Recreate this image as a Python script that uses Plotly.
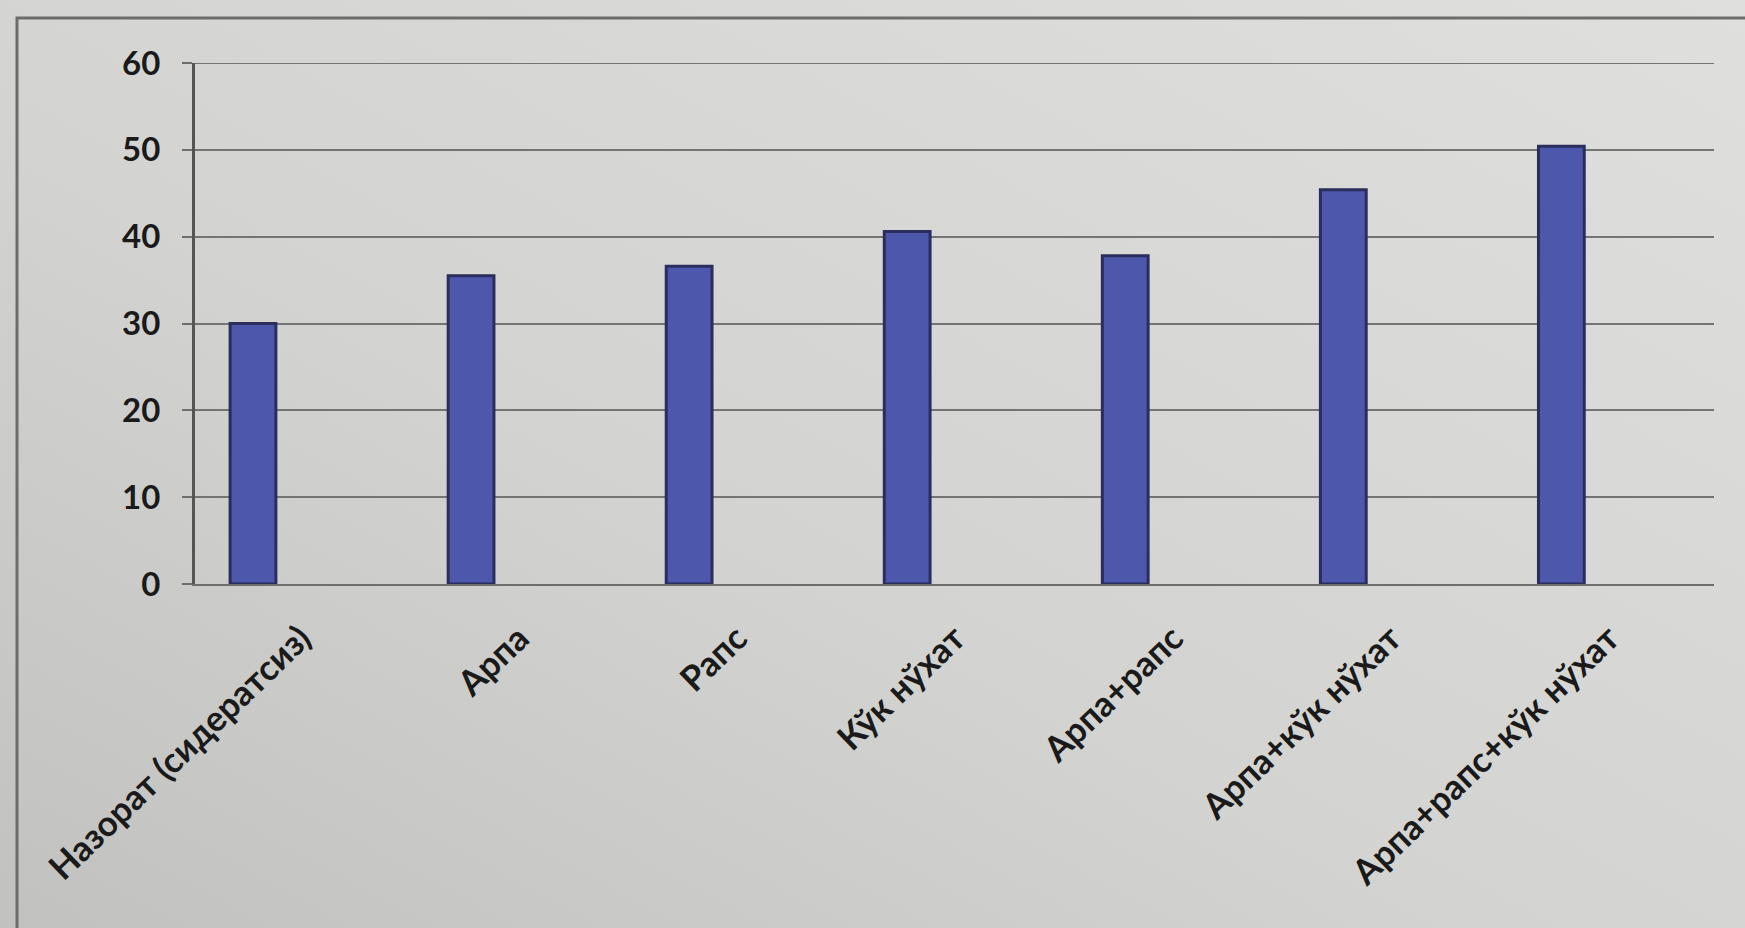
import base64
import plotly.graph_objects as go

# Green-manure variants and the measured values
categories = [
    "Назорат (сидератсиз)",
    "Арпа",
    "Рапс",
    "Кўк нўхат",
    "Арпа+рапс",
    "Арпа+кўк нўхат",
    "Арпа+рапс+кўк нўхат",
]
values = [30.0, 35.5, 36.6, 40.6, 37.8, 45.4, 50.4]
y_ticks = [0, 10, 20, 30, 40, 50, 60]

BAR_FILL = "#4d57ab"
BAR_EDGE = "#2a2e5c"
GRID = "#747472"
TEXT = "#1a1a1a"
FONT = "Lato"

# soft grey backdrop, darker on the left and lighter towards the right
svg = (
    '<svg xmlns="http://www.w3.org/2000/svg" width="1745" height="928" '
    'preserveAspectRatio="none">'
    '<defs><linearGradient id="g" x1="0" y1="1" x2="1" y2="0">'
    '<stop offset="0" stop-color="#bcbcba"/>'
    '<stop offset="0.45" stop-color="#d3d4d1"/>'
    '<stop offset="1" stop-color="#e1e2df"/>'
    '</linearGradient></defs>'
    '<rect width="1745" height="928" fill="url(#g)"/></svg>'
)
bg_uri = "data:image/svg+xml;base64," + base64.b64encode(svg.encode()).decode()

fig = go.Figure(
    go.Bar(
        x=categories,
        y=values,
        width=0.21,
        marker=dict(color=BAR_FILL, line=dict(color=BAR_EDGE, width=3)),
        hoverinfo="x+y",
    )
)

fig.update_layout(
    width=1745,
    height=928,
    margin=dict(l=195, r=31, t=63, b=344),
    paper_bgcolor="#d3d4d1",
    plot_bgcolor="rgba(0,0,0,0)",
    showlegend=False,
    font=dict(family=FONT, color=TEXT),
    images=[
        dict(
            source=bg_uri,
            xref="paper", yref="paper",
            x=-0.2, y=1.2, sizex=1.4, sizey=2.2,
            xanchor="left", yanchor="top",
            sizing="stretch", layer="below",
        )
    ],
    shapes=[
        # outer chart frame
        dict(
            type="rect", xref="paper", yref="paper",
            x0=(17 - 195) / (1745 - 226), x1=1.05,
            y0=-0.9, y1=1 + (63 - 18) / (928 - 407),
            line=dict(color="#6c6c6c", width=3),
            fillcolor="rgba(0,0,0,0)", layer="below",
        ),
        # gridline at the top of the value range
        dict(
            type="line", xref="x domain", yref="y",
            x0=0, x1=1, y0=y_ticks[-1], y1=y_ticks[-1],
            line=dict(color=GRID, width=2), layer="below",
        ),
    ],
)

fig.update_xaxes(
    type="category",
    range=[-0.266, 6.70],
    showgrid=False,
    showline=True,
    linecolor="#6e6e6e",
    linewidth=2,
    ticks="",
    tickangle=-44,
    ticklabelshift=48,
    ticklabelstandoff=18,
    tickfont=dict(family=FONT, size=35, color=TEXT, weight="bold"),
    automargin=False,
)

fig.update_yaxes(
    range=[0, 60],
    tickvals=y_ticks,
    showgrid=True,
    gridcolor=GRID,
    gridwidth=2,
    showline=True,
    linecolor="#555555",
    linewidth=3,
    ticks="outside",
    ticklen=10,
    tickwidth=2,
    tickcolor="#6e6e6e",
    ticklabelstandoff=15,
    tickfont=dict(family=FONT, size=33, color=TEXT, weight="bold"),
    zeroline=False,
    automargin=False,
)

fig.write_html("out.html")
